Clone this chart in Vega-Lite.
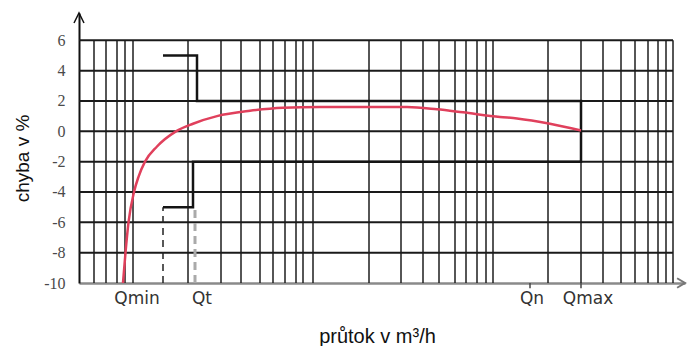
{
  "$schema": "https://vega.github.io/schema/vega-lite/v6.json",
  "width": 606,
  "height": 270,
  "autosize": {"type": "none"},
  "padding": {"left": 79, "top": 13, "right": 4, "bottom": 63},
  "background": "white",
  "config": {
    "view": {"stroke": null},
    "axis": {"grid": false, "ticks": false},
    "axisX": {
      "labels": false,
      "domainColor": "#8a8a8a", "domainWidth": 2.5,
      "titleFont": "Liberation Sans", "titleFontSize": 20, "titleFontWeight": "normal", "titleColor": "#111",
      "titleX": 298, "titleY": 59, "titleBaseline": "alphabetic", "titleAlign": "center"
    },
    "axisY": {
      "domainColor": "#111", "domainWidth": 2,
      "labelFont": "Liberation Sans Narrow", "labelFontSize": 16, "labelColor": "#4a4a4a",
      "labelPadding": 14, "labelOverlap": false, "labelFlush": false, "labelBound": false,
      "titleFont": "Liberation Sans", "titleFontSize": 19, "titleFontWeight": "normal", "titleColor": "#111",
      "titleAngle": 270, "titleX": -57, "titleY": 145, "titleAlign": "center", "titleBaseline": "middle"
    }
  },
  "datasets": {
    "vgrid": [
      {"pos": 15}, {"pos": 27}, {"pos": 38}, {"pos": 46}, {"pos": 54},
      {"pos": 109}, {"pos": 142}, {"pos": 162}, {"pos": 181}, {"pos": 194}, {"pos": 206}, {"pos": 217}, {"pos": 224}, {"pos": 234},
      {"pos": 290}, {"pos": 322}, {"pos": 344}, {"pos": 360}, {"pos": 376}, {"pos": 387}, {"pos": 398}, {"pos": 407}, {"pos": 414},
      {"pos": 469}, {"pos": 502}, {"pos": 524}, {"pos": 542}, {"pos": 556}, {"pos": 569}, {"pos": 579}, {"pos": 587}, {"pos": 594}
    ],
    "hgrid": [
      {"err": -8}, {"err": -6}, {"err": -4}, {"err": -2}, {"err": 0}, {"err": 2}, {"err": 4}, {"err": 6}
    ],
    "envelope": [
      {"i": 0, "pos": 84, "err": 5},
      {"i": 1, "pos": 118, "err": 5},
      {"i": 2, "pos": 118, "err": 2},
      {"i": 3, "pos": 502, "err": 2},
      {"i": 4, "pos": 502, "err": -2},
      {"i": 5, "pos": 114, "err": -2},
      {"i": 6, "pos": 114, "err": -5},
      {"i": 7, "pos": 84, "err": -5}
    ],
    "curve": [
      {"pos": 44, "err": -10},
      {"pos": 46.5, "err": -8},
      {"pos": 49.5, "err": -6},
      {"pos": 55, "err": -4},
      {"pos": 59.5, "err": -3},
      {"pos": 66, "err": -2},
      {"pos": 78, "err": -1},
      {"pos": 97, "err": 0},
      {"pos": 114, "err": 0.5},
      {"pos": 138, "err": 1.0},
      {"pos": 171, "err": 1.35},
      {"pos": 204, "err": 1.55},
      {"pos": 241, "err": 1.6},
      {"pos": 328, "err": 1.6},
      {"pos": 358, "err": 1.45},
      {"pos": 384, "err": 1.25},
      {"pos": 421, "err": 0.95},
      {"pos": 438, "err": 0.85},
      {"pos": 471, "err": 0.5},
      {"pos": 502, "err": 0.05}
    ],
    "labels": [
      {"pos": 58, "label": "Qmin"},
      {"pos": 123, "label": "Qt"},
      {"pos": 453, "label": "Qn"},
      {"pos": 509, "label": "Qmax"}
    ]
  },
  "layer": [
    {
      "data": {"name": "vgrid"},
      "mark": {"type": "rule", "color": "#1e1e1e", "strokeWidth": 1.5},
      "encoding": {
        "x": {
          "field": "pos", "type": "quantitative", "title": "průtok v m³/h",
          "scale": {"domain": [0, 606], "nice": false, "zero": false}
        },
        "y": {"datum": -10, "type": "quantitative", "scale": {"domain": [-10, 7.8], "nice": false, "zero": false},
              "axis": {"values": [-10, -8, -6, -4, -2, 0, 2, 4, 6], "labelExpr": "'' + datum.value", "labelOverlap": false, "tickCount": 9}},
        "y2": {"datum": 6}
      }
    },
    {
      "data": {"name": "hgrid"},
      "mark": {"type": "rule", "color": "#1a1a1a", "strokeWidth": 2},
      "encoding": {
        "y": {
          "field": "err", "type": "quantitative", "title": "chyba v %",
          "scale": {"domain": [-10, 7.8], "nice": false, "zero": false},
          "axis": {"values": [-10, -8, -6, -4, -2, 0, 2, 4, 6], "labelExpr": "'' + datum.value", "labelOverlap": false, "tickCount": 9}
        },
        "x": {"datum": 0, "type": "quantitative"},
        "x2": {"datum": 594}
      }
    },
    {
      "data": {"values": [{"pos": 84}]},
      "mark": {"type": "rule", "color": "#222", "strokeWidth": 1.5, "strokeDash": [7, 5]},
      "encoding": {
        "x": {"field": "pos", "type": "quantitative", "title": "průtok v m³/h"},
        "y": {"datum": -10, "type": "quantitative"},
        "y2": {"datum": -5}
      }
    },
    {
      "data": {"values": [{"pos": 116}]},
      "mark": {"type": "rule", "color": "#aaaaaa", "strokeWidth": 3, "strokeDash": [8, 5]},
      "encoding": {
        "x": {"field": "pos", "type": "quantitative", "title": "průtok v m³/h"},
        "y": {"datum": -10, "type": "quantitative"},
        "y2": {"datum": -5}
      }
    },
    {
      "data": {"values": [{"pos": 451}, {"pos": 502}]},
      "mark": {"type": "rule", "color": "#444", "strokeWidth": 1.5},
      "encoding": {
        "x": {"field": "pos", "type": "quantitative", "title": "průtok v m³/h"},
        "y": {"datum": -10, "type": "quantitative"},
        "y2": {"datum": -10.35}
      }
    },
    {
      "data": {"name": "envelope"},
      "mark": {"type": "line", "color": "#141414", "strokeWidth": 2.5, "strokeJoin": "miter"},
      "encoding": {
        "x": {"field": "pos", "type": "quantitative", "title": "průtok v m³/h"},
        "y": {"field": "err", "type": "quantitative", "title": "chyba v %"},
        "order": {"field": "i", "type": "quantitative"}
      }
    },
    {
      "data": {"name": "curve"},
      "mark": {"type": "line", "color": "#e0405c", "strokeWidth": 2.5, "interpolate": "monotone"},
      "encoding": {
        "x": {"field": "pos", "type": "quantitative", "title": "průtok v m³/h"},
        "y": {"field": "err", "type": "quantitative", "title": "chyba v %"}
      }
    },
    {
      "data": {"values": [{"pos": 0, "err": 7.8}]},
      "mark": {"type": "point", "shape": "M-0.5,1L0,0L0.5,1", "size": 400, "filled": false, "color": "#111", "strokeWidth": 1.5, "opacity": 1},
      "encoding": {
        "x": {"field": "pos", "type": "quantitative", "title": "průtok v m³/h"},
        "y": {"field": "err", "type": "quantitative", "title": "chyba v %"}
      }
    },
    {
      "data": {"values": [{"pos": 606, "err": -10}]},
      "mark": {"type": "point", "shape": "M-1,-0.6L0,0L-1,0.6", "size": 250, "filled": false, "color": "#777", "strokeWidth": 2, "opacity": 1},
      "encoding": {
        "x": {"field": "pos", "type": "quantitative", "title": "průtok v m³/h"},
        "y": {"field": "err", "type": "quantitative", "title": "chyba v %"}
      }
    },
    {
      "data": {"name": "labels"},
      "mark": {"type": "text", "font": "DejaVu Sans", "fontSize": 17, "color": "#333", "dy": 16, "baseline": "middle", "align": "center"},
      "encoding": {
        "x": {"field": "pos", "type": "quantitative", "title": "průtok v m³/h"},
        "y": {"datum": -10, "type": "quantitative"},
        "text": {"field": "label"}
      }
    }
  ]
}
